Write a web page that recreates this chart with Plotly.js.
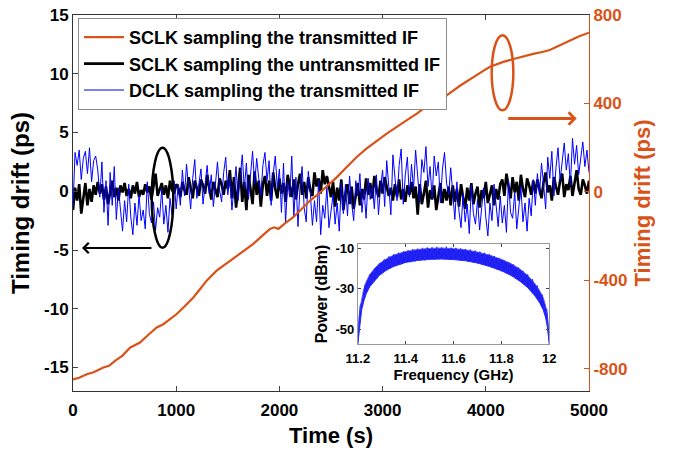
<!DOCTYPE html>
<html>
<head>
<meta charset="utf-8">
<script src="https://cdn.plot.ly/plotly-3.0.1.min.js"></script>
<style>html,body{margin:0;padding:0;background:#fff;}#chart{width:679px;height:451px;}</style>
</head>
<body>
<div id="chart"></div>
<script>
// ---- data ----
const sampleStep = 20;   // s between samples of the noisy drift records
const specStep = 0.01;   // GHz between samples of the jagged spectrum trace

const dclkTransmitted = [
 -1.3,
 3.3, 2.2, 3.5, 1.0, 2.8, 3.4, 1.5, 3.7, 0.8, 2.6, 3.0,
 1.8, -0.5, 2.5, -1.8, 0.9, -2.9, 1.6, -1.2, 2.1, -2.4, 0.3,
 -1.5, -3.4, -0.8, -2.6, 0.6, -2.2, -3.7, -1.0, -2.9, -0.3, -2.5, -1.6, -3.2, 0.8, -1.9, -2.7, -0.9, -3.3, -1.4, -2.2, 0.2, -2.8, -1.2, -3.5, -0.6, -2.0, 0.9, -1.5,
 0.6, -1.2, 1.8, -0.4, 2.3, 0.2, -1.5, 1.1, 2.7, -0.6, 0.9, 1.9, -1.1, 0.4, 2.2, -0.2, 1.4, -1.3, 0.8, 2.5, 0.1, -0.9, 1.6, 2.9, -0.3, 1.2, -1.6, 0.5, 2.1, -0.8,
 1.3, 3.1, 0.2, 2.4, -0.7, 1.8, 3.4, 0.6, 2.8, 1.1, -0.4, 2.2, 3.3, 0.9, 2.6, -1.2, 1.5, 3.0, 0.3, 1.9,
 -1.8, 2.4, -2.7, 0.8, -0.5, 3.0, -2.2, 1.2, -3.0, 0.4, 2.1, -1.4, -2.6, 1.7, -0.2, -2.9,
 -0.8, -2.6, 0.9, -3.7, -1.2, -2.3, 0.4, -3.1, -1.7, -0.3, -2.8, -1.0, -3.4, 0.7, -1.9,
 0.6, -2.1, 1.3, -1.0, -2.5, 0.9, -0.4, 1.5, -1.8, 0.2, -2.3, 1.1, -0.7, 0.5, -1.5, 1.4, -2.0, 0.3,
 1.8, -1.3, 2.6, 0.4, -2.0, 3.1, 0.9, -0.8, 2.2, 3.6, -1.1, 1.4, 2.9, -0.5,
 2.3, 0.2, 3.5, 1.0, -0.9, 2.7, 1.6, 3.8, 0.4, 2.1, -0.6, 3.0, 1.3, 2.5, -1.0, 1.9, 3.3, 0.7, -0.3, 2.0,
 -0.5, -2.4, 0.8, -1.7, -3.1, -0.2, -2.6, -1.1, -3.6, 0.5, -1.9, -2.8, -0.7, -3.3, -1.4, 0.3, -2.2, -3.8, -1.0, -2.5, 0.6, -1.6, -3.0, -0.4, -2.7, -1.2, -3.5, 0.9, -1.8, -2.3, -0.1, -3.2, -1.5, 0.4, -2.6, -1.0, -3.4, -0.6, -2.1, 1.0,
 -1.2, 1.5, -0.3, 2.4, 0.6, -1.5, 2.9, 1.1, 3.4, -0.4, 2.0, 3.7, 0.9, 2.6, 4.1, 1.8, 3.2, 0.5, 4.5, 2.3, 3.9, 1.4, 3.0, 4.2, 2.1, 3.5, 1.6
];

const sclkUntransmitted = [
 -1.6, 0.3, -0.8, 0.6, -1.9, -0.4, 0.7, -1.2, 0.2, -0.9, 0.5, -0.3, 0.8,
 -0.2, 0.6, -0.7, 0.4, -1.1, 0.1, 0.9, -0.5, 0.3, -0.8, 0.5, -0.1, 0.7,
 -0.4, 0.2, -0.6, 0.5, -0.2, 0.8, -0.5, 0.1, -0.3, 0.6, -0.1, 0.4, -0.7, 0.3, 1.5, -0.4, 0.2, 0.7, -0.3, 0.5, -0.6, 0.9, 0.1, -0.2, 0.6,
 0.3, -0.5, 0.8, 0.1, -0.3, 1.2, 0.4, -0.6, 0.9, 0.2, -0.4, 1.0, 0.5, -0.2, 1.4, 0.3, -0.7, 0.8, 0.1, -0.5, 1.1, 0.6, -0.3, 0.9, 0.2,
 1.8, -0.6, 1.2, -1.4, 0.5, 2.0, -0.9, 0.8, -1.6, 1.4, 0.2, -1.1, 1.7, -0.3, 0.9, -1.3, 0.6,
 1.3, -0.4, 0.9, -0.8, 1.6, 0.2, -0.6, 1.1, -0.2, 0.7, -0.9, 1.4, 0.4, -0.5, 1.0, -0.7, 0.6, 1.5, -0.3, 0.8, -0.6, 1.2, 0.1, -0.4,
 1.6, 0.4, 1.1, -0.2, 1.8, 0.6, 1.3, 0.2,
 -0.5, 0.8, -1.3, 0.3, -0.8, 1.0, -1.6, -0.2, 0.6, -1.1, 0.4, -1.5, -0.4, 0.7, -1.2, 0.2, -0.7,
 1.1, -0.3, 0.7, -0.6, 1.3, 0.2, -0.5, 0.9, -0.2, 1.2, 0.4, -0.4,
 0.3, -0.8, 0.6, -0.5, 1.0, -0.7, 0.2, -0.9, 0.5, -0.3, 0.8,
 -0.6, 0.4, -2.0, 0.6, -1.1, -0.2, 0.9, -1.4, 0.1, -0.7, 0.5, -1.6, -0.3, 0.7, -1.0, 0.2, -0.8, 0.4, -1.2,
 0.5, -0.9, 0.2, -1.3, 0.6, -0.5, -1.5, 0.3, -0.8, 0.7, -1.1, -0.2, 0.4, -1.4, 0.1, -0.6, 0.8, -1.0, -0.3, 0.5, -1.2, 0.2, -0.7, 0.6,
 1.0, -0.4, 1.5, 0.3, -0.6, 1.2, -0.1, 0.8, -0.8, 1.4, 0.2, -0.5, 1.1, 0.5, -0.3, 0.9,
 -0.2, 1.0, 0.3, -0.6, 0.8, 1.6, -0.1, 0.5, -0.8, 1.2, 0.4, -0.3, 0.9, 1.5, -0.5, 0.6, 0.1, 1.3, -0.4, 0.7, 1.8, 0.2, -0.3, 1.0, 0.5, -0.2, 0.9
];

const sclkTime = [0, 60, 133, 200, 294, 350, 407, 480, 552, 649, 720, 811, 875, 940, 1005, 1080, 1166, 1230, 1295, 1392, 1470, 1553, 1650, 1747, 1830, 1909, 1950, 1990, 2060, 2135, 2220, 2297, 2361, 2450, 2555, 2650, 2749, 2840, 2943, 3040, 3137, 3230, 3331, 3450, 3540, 3621, 3750, 3879, 3960, 4041, 4110, 4170, 4260, 4364, 4460, 4557, 4620, 4687, 4750, 4816, 4900, 5000];
const sclkTransmitted = [-848, -840, -824, -815, -794, -786, -764, -740, -704, -681, -650, -613, -598, -577, -552, -518, -477, -440, -401, -356, -330, -303, -270, -235, -200, -167, -160, -167, -140, -114, -75, -39, -16, 20, 66, 112, 158, 195, 231, 264, 294, 322, 354, 395, 417, 437, 480, 520, 543, 566, 578, 588, 600, 614, 624, 634, 642, 656, 670, 687, 703, 720];

// spectrum band envelope (inset)
const specFreq  = [11.200, 11.202, 11.205, 11.210, 11.216, 11.224, 11.235, 11.25, 11.27, 11.29, 11.32, 11.35, 11.40, 11.45, 11.50, 11.55, 11.60, 11.65, 11.70, 11.75, 11.80, 11.84, 11.88, 11.91, 11.94, 11.96, 11.975, 11.985, 11.992, 11.997, 12.0];
const specUpper = [-55, -49, -44, -39, -34.5, -30.5, -26.5, -23, -20, -17.6, -15.2, -13.4, -11.6, -10.6, -10.1, -9.9, -10.2, -10.8, -11.9, -13.4, -15.5, -17.6, -20.5, -23.5, -27.5, -31, -34.5, -38.5, -43, -48, -54];
const specLower = [-57.3, -55, -50, -45, -40.5, -36.5, -32.5, -29, -26, -23.4, -20.8, -19, -17, -16, -15.5, -15.3, -15.6, -16.2, -17.3, -19, -21.1, -23.4, -26.5, -29.5, -33.5, -37, -40.5, -44.5, -49, -54, -57.3];
// jagged spectrum samples, 11.20 .. 12.00 GHz
const specJagged = [
 -57, -38, -38, -28, -31, -23, -27.5, -20, -25, -17.5,
 -22.5, -15.5, -21, -14, -19.8, -13, -18.8, -12.2, -18, -11.5,
 -17.2, -11, -16.9, -10.4, -16.5, -10.2, -16.1, -9.8, -16, -9.6,
 -15.7, -9.5, -15.6, -9.3, -15.5, -9.6, -15.5, -9.2, -15.6, -9.7,
 -15.7, -9.8, -15.9, -10.0, -16.3, -10.4, -16.5, -10.6, -16.9, -11.1,
 -17.5, -11.6, -18.1, -12.2, -18.8, -13.0, -19.6, -13.8, -20.4, -14.8,
 -21.4, -15.8, -22.4, -16.8, -23.6, -18.0, -25, -19.5, -26.5, -21.2,
 -28.2, -22.9, -30.3, -25.2, -33, -28.4, -36.7, -32.8, -42, -40,
 -57
];

const timeTicks = [0, 1000, 2000, 3000, 4000, 5000];
const leftTicks = [-15, -10, -5, 0, 5, 10, 15];
const rightTicks = [-800, -400, 0, 400, 800];
const freqTicks = [11.2, 11.4, 11.6, 11.8, 12];
const powerTicks = [-50, -30, -10];

// ---- build ----
const noisyTime = dclkTransmitted.map((_, i) => i * sampleStep);
const jaggedFreq = specJagged.map((_, i) => +(11.2 + i * specStep).toFixed(3));
const ORANGE = '#D95319';
const FONT = 'Liberation Sans, Arial, sans-serif';
const lbl = v => String(v);

const traces = [
  {x: noisyTime, y: sclkUntransmitted, type: 'scatter', mode: 'lines', name: 'SCLK sampling the untransmitted IF',
   line: {color: '#000000', width: 2.6}, legendrank: 2, xaxis: 'x', yaxis: 'y'},
  {x: noisyTime, y: dclkTransmitted, type: 'scatter', mode: 'lines', name: 'DCLK sampling the transmitted IF',
   line: {color: '#0000FF', width: 1}, legendrank: 3, xaxis: 'x', yaxis: 'y'},
  {x: sclkTime, y: sclkTransmitted, type: 'scatter', mode: 'lines', name: 'SCLK sampling the transmitted IF',
   line: {color: ORANGE, width: 2.2}, legendrank: 1, xaxis: 'x', yaxis: 'y2'},
  {x: specFreq, y: specLower, type: 'scatter', mode: 'lines', showlegend: false,
   line: {color: '#2a2aff', width: 1}, xaxis: 'x2', yaxis: 'y3'},
  {x: specFreq, y: specUpper, type: 'scatter', mode: 'lines', showlegend: false, fill: 'tonexty',
   fillcolor: 'rgba(10,10,235,0.92)', line: {color: '#5a5aff', width: 1}, xaxis: 'x2', yaxis: 'y3'},
  {x: jaggedFreq, y: specJagged, type: 'scatter', mode: 'lines', showlegend: false,
   line: {color: 'rgba(40,40,255,0.85)', width: 1}, xaxis: 'x2', yaxis: 'y3'}
];

const axisCommon = {showgrid: false, zeroline: false, ticks: 'inside', ticklen: 5, tickwidth: 1, showline: true};

const layout = {
  width: 679, height: 451,
  margin: {l: 73, r: 90, t: 15, b: 60},
  paper_bgcolor: '#fff', plot_bgcolor: '#fff',
  font: {family: FONT, color: '#000'},
  showlegend: true,
  legend: {x: 0.0097, y: 0.992, xanchor: 'left', yanchor: 'top', bgcolor: '#fff',
    bordercolor: '#8c8c8c', borderwidth: 1, traceorder: 'normal', itemwidth: 40,
    font: {family: FONT, size: 18, color: '#000', weight: 'bold'}, tracegroupgap: 0},
  xaxis: Object.assign({}, axisCommon, {
    range: [0, 5000], domain: [0, 1], anchor: 'y', mirror: 'ticks', linecolor: '#333',
    tickvals: timeTicks, ticktext: timeTicks.map(lbl), ticklabelstandoff: 4,
    tickfont: {family: FONT, size: 17, weight: 'bold', color: '#000'},
    title: {text: '<b>Time (s)</b>', font: {family: FONT, size: 22, color: '#000'}, standoff: 8}
  }),
  yaxis: Object.assign({}, axisCommon, {
    range: [-17, 15], domain: [0, 1], anchor: 'x', linecolor: '#333',
    tickvals: leftTicks, ticktext: leftTicks.map(lbl),
    tickfont: {family: FONT, size: 17, weight: 'bold', color: '#000'},
    title: {text: '<b>Timing drift (ps)</b>', font: {family: FONT, size: 24, color: '#000'}, standoff: 7}
  }),
  yaxis2: Object.assign({}, axisCommon, {
    range: [-900, 800], overlaying: 'y', side: 'right', anchor: 'x', linecolor: ORANGE, tickcolor: ORANGE,
    tickvals: rightTicks, ticktext: rightTicks.map(lbl),
    tickfont: {family: FONT, size: 17, weight: 'bold', color: ORANGE},
    title: {text: '<b>Timing drift (ps)</b>', font: {family: FONT, size: 22, color: ORANGE}, standoff: 8}
  }),
  xaxis2: Object.assign({}, axisCommon, {
    range: [11.2, 12], domain: [0.552, 0.923], anchor: 'y3', mirror: 'ticks', linecolor: '#999', ticklen: 3,
    tickvals: freqTicks, ticktext: freqTicks.map(lbl), ticklabelstandoff: 2,
    tickfont: {family: FONT, size: 13, weight: 'bold', color: '#000'},
    title: {text: '<b>Frequency (GHz)</b>', font: {family: FONT, size: 15, color: '#000'}, standoff: 2}
  }),
  yaxis3: Object.assign({}, axisCommon, {
    range: [-57.3, -7.9], domain: [0.125, 0.391], anchor: 'x2', mirror: 'ticks', linecolor: '#999', ticklen: 3,
    tickvals: powerTicks, ticktext: powerTicks.map(lbl),
    tickfont: {family: FONT, size: 13, weight: 'bold', color: '#000'},
    title: {text: '<b>Power (dBm)</b>', font: {family: FONT, size: 16, color: '#000'}, standoff: 3}
  }),
  shapes: [
    {type: 'circle', xref: 'x', yref: 'y', x0: 763, x1: 972, y0: -4.8, y1: 3.7, line: {color: '#000', width: 2.5}},
    {type: 'circle', xref: 'x', yref: 'y2', x0: 4057, x1: 4267, y0: 369, y1: 709, line: {color: ORANGE, width: 2.5}}
  ],
  annotations: [
    {xref: 'x', yref: 'y', axref: 'x', ayref: 'y', x: 87, y: -4.83, ax: 775, ay: -4.83, text: '',
     showarrow: true, arrowhead: 4, arrowsize: 1, arrowwidth: 2, arrowcolor: '#000'},
    {xref: 'x', yref: 'y2', axref: 'x', ayref: 'y2', x: 4881, y: 332, ax: 4203, ay: 332, text: '',
     showarrow: true, arrowhead: 4, arrowsize: 0.8, arrowwidth: 3, arrowcolor: ORANGE}
  ]
};

Plotly.newPlot('chart', traces, layout, {displayModeBar: false, staticPlot: true});
</script>
</body>
</html>
